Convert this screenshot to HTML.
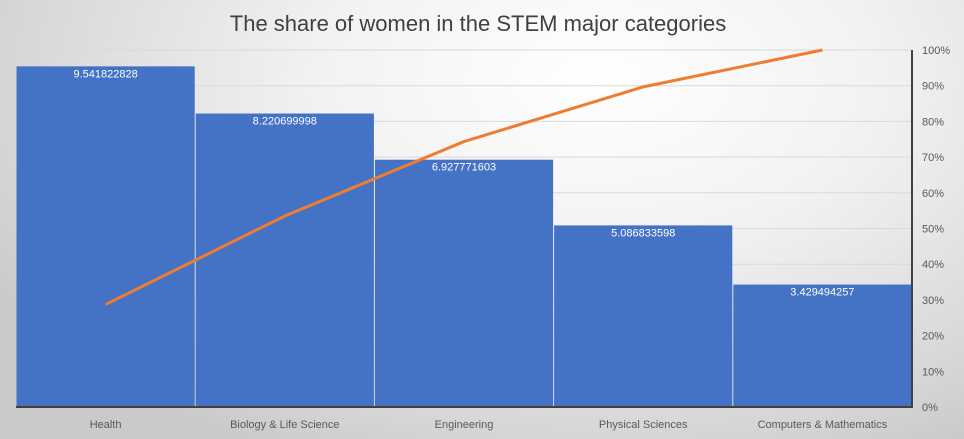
<!DOCTYPE html>
<html><head><meta charset="utf-8"><style>
html,body{margin:0;padding:0;width:964px;height:439px;overflow:hidden}
body{background:radial-gradient(ellipse 700px 420px at 62% 18%,#ffffff 0%,#f2f2f2 40%,#d6d6d6 85%,#cacaca 100%);font-family:"Liberation Sans",sans-serif}
</style></head><body>
<svg id="chart" width="964" height="439" xmlns="http://www.w3.org/2000/svg"></svg>
<script>
const categories=["Health","Biology & Life Science","Engineering","Physical Sciences","Computers & Mathematics"];
const values=[9.541822828,8.220699998,6.927771603,5.086833598,3.429494257];
const labels=["9.541822828","8.220699998","6.927771603","5.086833598","3.429494257"];
const pctTicks=[0,10,20,30,40,50,60,70,80,90,100];

const svg=document.getElementById('chart');
const NS='http://www.w3.org/2000/svg';
const L=16,R=912,T=50,B=407,MAXV=10;
const yV=v=>B-(v/MAXV)*(B-T);
const yP=p=>B-(p/100)*(B-T);
const bw=(R-L)/categories.length;
const xC=i=>L+bw*(i+0.5);
function mk(tag,attrs,txt){const e=document.createElementNS(NS,tag);for(const k in attrs)e.setAttribute(k,attrs[k]);if(txt!==undefined)e.textContent=txt;svg.appendChild(e);return e;}

const title=mk('text',{x:478,y:31,'text-anchor':'middle','font-size':22,fill:'#404040','font-family':'"Liberation Sans",sans-serif'},'The share of women in the STEM major categories');



pctTicks.forEach(p=>{
  const g=mk('line',{x1:L,x2:R,y1:yP(p),y2:yP(p),stroke:'#d9d9d9','stroke-width':1});
  
  
  const t=mk('text',{x:922,y:yP(p)+4,'font-size':11,fill:'#595959'},p+'%');
  
  
});

values.forEach((v,i)=>{
  const r=mk('rect',{x:L+bw*i+0.5,y:yV(v),width:bw-1,height:B-yV(v),fill:'#4472c4'});
  
  
  const t=mk('text',{x:xC(i),y:yV(v)+11,'text-anchor':'middle','font-size':11,fill:'#ffffff'},labels[i]);
  
  
  const c=mk('text',{x:xC(i),y:428,'text-anchor':'middle','font-size':11,fill:'#595959'},categories[i]);
  
  
});

const ax=mk('line',{x1:L,x2:R+1,y1:B,y2:B,stroke:'#404040','stroke-width':2});


const ay=mk('line',{x1:R,x2:R,y1:T,y2:B+1,stroke:'#404040','stroke-width':2});



const total=values.reduce((a,b)=>a+b,0);
let cum=0;const pts=values.map((v,i)=>{cum+=v;return xC(i)+','+yP(cum/total*100);});
const line=mk('polyline',{points:pts.join(' '),fill:'none',stroke:'#ed7d31','stroke-width':3,'stroke-linejoin':'round'});


</script>
</body></html>
